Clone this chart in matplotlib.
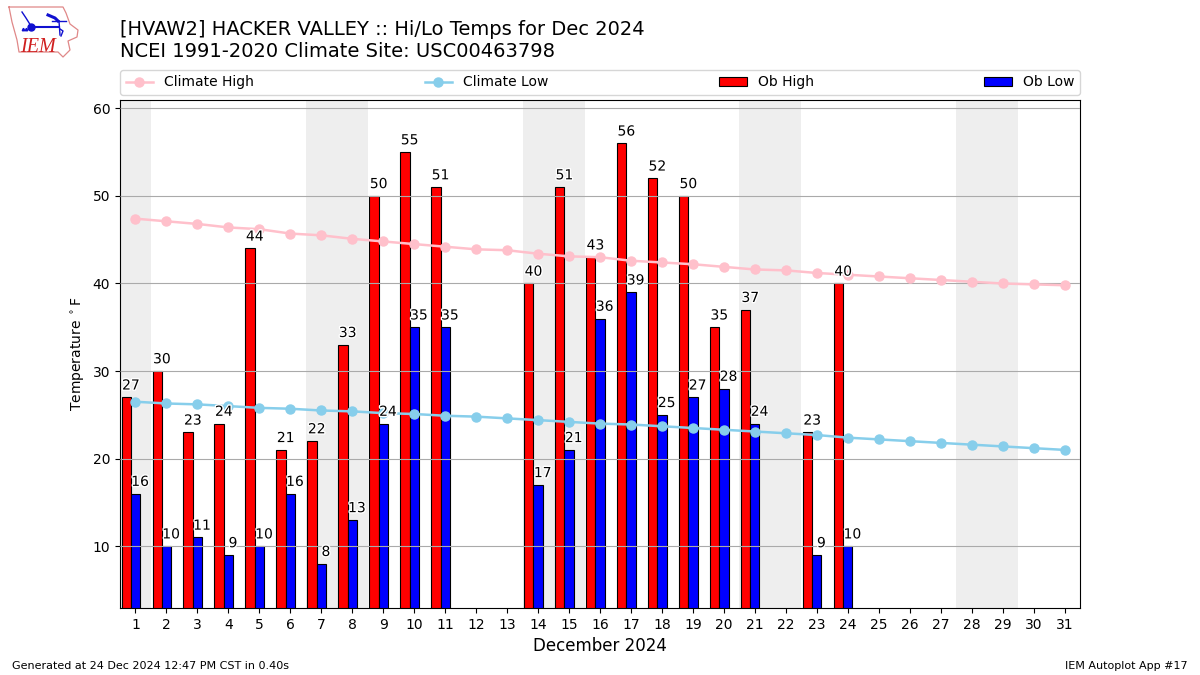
import matplotlib
matplotlib.use('Agg')
import matplotlib.patheffects as pe
import matplotlib.pyplot as plt
import numpy as np

days = np.arange(1, 32)
climate_high = [47.4, 47.1, 46.8, 46.4, 46.2, 45.7, 45.5, 45.1, 44.8, 44.5, 44.2,
                43.9, 43.8, 43.4, 43.1, 43.0, 42.6, 42.4, 42.2, 41.9, 41.6, 41.5,
                41.2, 41.0, 40.8, 40.6, 40.4, 40.2, 40.0, 39.9, 39.8]
climate_low = [26.5, 26.3, 26.2, 26.0, 25.8, 25.7, 25.5, 25.4, 25.2, 25.1, 24.9,
               24.8, 24.6, 24.4, 24.2, 24.0, 23.9, 23.7, 23.5, 23.3, 23.1, 22.9,
               22.7, 22.4, 22.2, 22.0, 21.8, 21.6, 21.4, 21.2, 21.0]
ob_days = [1, 2, 3, 4, 5, 6, 7, 8, 9, 10, 11, 14, 15, 16, 17, 18, 19, 20, 21, 23, 24]
ob_high = [27, 30, 23, 24, 44, 21, 22, 33, 50, 55, 51, 40, 51, 43, 56, 52, 50, 35, 37, 23, 40]
ob_low = [16, 10, 11, 9, 10, 16, 8, 13, 24, 35, 35, 17, 21, 36, 39, 25, 27, 28, 24, 9, 10]
weekends = [(0.5, 1.5), (6.5, 8.5), (13.5, 15.5), (20.5, 22.5), (27.5, 29.5)]

title = "[HVAW2] HACKER VALLEY :: Hi/Lo Temps for Dec 2024\nNCEI 1991-2020 Climate Site: USC00463798"
footer_left = "Generated at 24 Dec 2024 12:47 PM CST in 0.40s"
footer_right = "IEM Autoplot App #17"

# iowa outline for the logo, in logo pixels
iowa_x = [9, 12, 17, 19, 58, 63, 70, 68, 77, 78, 70, 66, 63, 9]
iowa_y = [7, 22, 40, 52, 52, 57, 50, 41, 37, 30, 24, 13, 7, 7]

fig = plt.figure(figsize=(12, 6.75), dpi=100)
ax = fig.add_axes([120 / 1200, 1 - 608 / 675, 960 / 1200, 508 / 675])

for start, end in weekends:
    ax.axvspan(start, end, color='#eeeeee', lw=0, zorder=0)

days_arr = np.array(ob_days)
ax.bar(days_arr - 0.3, ob_high, width=0.3, color='r', edgecolor='k', lw=0.8, label='Ob High', zorder=2)
ax.bar(days_arr, ob_low, width=0.3, color='b', edgecolor='k', lw=0.8, label='Ob Low', zorder=2)
ax.grid(True, axis='y', color='#aaaaaa', zorder=3)
ax.set_axisbelow(False)
ax.plot(days, climate_high, color='pink', marker='o', ms=6.5, lw=1.8, label='Climate High', zorder=4)
ax.plot(days, climate_low, color='skyblue', marker='o', ms=6.5, lw=1.8, label='Climate Low', zorder=4)

outline = [pe.withStroke(linewidth=2, foreground='white')]
for d, hi, lo in zip(ob_days, ob_high, ob_low):
    ax.text(d - 0.15, hi + 0.55, str(hi), ha='center', va='bottom', zorder=5, path_effects=outline)
    ax.text(d + 0.15, lo + 0.55, str(lo), ha='center', va='bottom', zorder=5, path_effects=outline)

ax.set_xlim(0.5, 31.5)
ax.set_ylim(2.95, 60.95)
ax.set_xticks(days)
ax.set_yticks(range(10, 61, 10))
ax.set_xlabel('December 2024', fontsize=12)
ax.set_ylabel(r'Temperature $^\circ$F')

handles, labels = ax.get_legend_handles_labels()
order = [labels.index(n) for n in ['Climate High', 'Climate Low', 'Ob High', 'Ob Low']]
ax.legend([handles[i] for i in order], [labels[i] for i in order], ncol=4, mode='expand',
          loc='lower left', bbox_to_anchor=(0, 1.01, 1, 0.05), borderaxespad=0)

fig.text(120 / 1200, 1 - 61 / 675, title, fontsize=14, ha='left', va='bottom', linespacing=1.2)
fig.text(12 / 1200, 1 - 671 / 675, footer_left, fontsize=8, ha='left', va='bottom')
fig.text(1188 / 1200, 1 - 671 / 675, footer_right, fontsize=8, ha='right', va='bottom')

logo = fig.add_axes([0, 1 - 60 / 675, 90 / 1200, 60 / 675])
logo.set_xlim(0, 90)
logo.set_ylim(60, 0)
logo.axis('off')
logo.plot(iowa_x, iowa_y, color='#e08888', lw=0.9)
blue = '#1010d0'
logo.plot([31, 59], [26.5, 26.5], color=blue, lw=1.5)
logo.plot([48, 55, 58], [15, 18, 21], color=blue, lw=2.2)
logo.plot([52, 66], [21, 21], color=blue, lw=1)
logo.plot([59, 60], [21, 35], color=blue, lw=1)
logo.plot([60, 63, 61], [29, 31, 36], color=blue, lw=1)
logo.plot([22, 26, 31], [12, 18, 26], color=blue, lw=1)
logo.plot([31], [26.5], 'o', color=blue, ms=5)
logo.plot([23, 26], [29, 29], '^', color=blue, ms=1.8)
logo.text(20, 52, 'IEM', color='#d02020', fontsize=14.5, family='Liberation Serif',
          style='italic', ha='left', va='baseline')

fig.savefig('out.png', dpi=100)
